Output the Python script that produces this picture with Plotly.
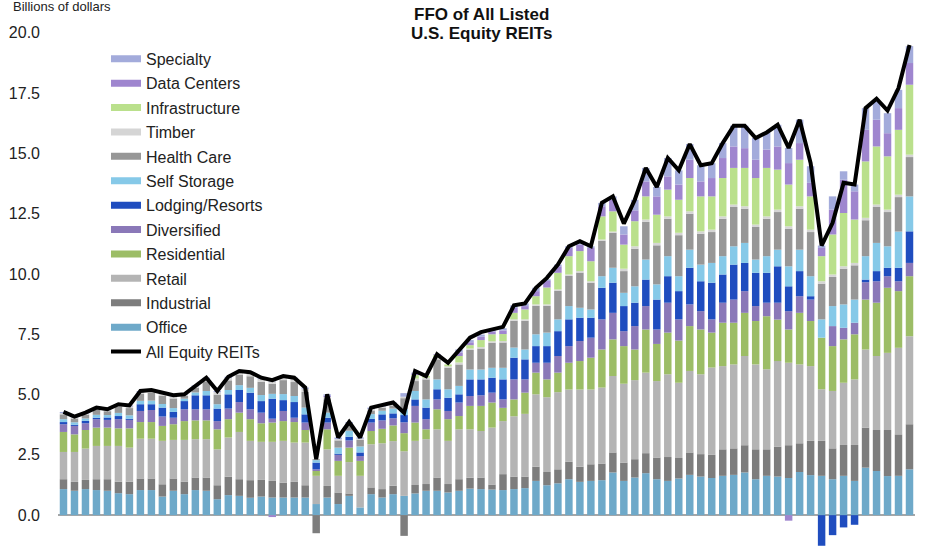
import plotly.graph_objects as go

quarters = [f"{y}Q{q}" for y in range(2003, 2023) for q in range(1, 5)][:78]

all_equity_reits = [4.28,4.09,4.25,4.46,4.39,4.60,4.55,5.15,5.19,5.08,4.97,5.01,5.38,5.70,5.15,5.74,5.98,5.93,5.70,5.60,5.77,5.70,5.29,
    2.32,5.01,3.22,3.86,3.22,4.46,4.55,4.67,4.25,
    5.98,5.77,6.67,6.32,6.87,7.36,7.59,7.70,7.81,8.70,8.78,9.43,9.84,10.39,11.15,11.36,11.15,12.95,
    13.22,12.09,13.08,14.40,13.61,14.81,14.30,15.39,14.51,14.60,15.43,16.15,16.15,15.64,15.87,16.19,15.23,16.40,14.60,
    11.18,12.12,13.78,13.71,16.88,17.27,16.78,17.71,19.50]

office = [1.08,1.01,1.08,1.04,1.01,0.91,0.87,1.04,1.04,0.77,1.01,0.87,1.04,1.01,0.66,0.83,0.80,0.72,0.77,0.73,0.73,0.73,0.73,
    0.46,0.73,0.46,0.80,0.32,0.87,0.73,0.87,0.80,
    0.90,1.01,1.01,0.94,1.01,1.10,1.08,1.06,1.04,1.08,1.12,1.42,1.24,1.32,1.49,1.38,1.42,1.45,
    1.77,1.42,1.56,1.74,1.49,1.42,1.52,1.67,1.60,1.54,1.63,1.67,1.77,1.49,1.63,1.60,1.54,1.79,1.66,1.63,1.49,1.63,1.42,1.97,1.83,1.62,1.63,1.90]
industrial = [0.41,0.37,0.38,0.45,0.48,0.48,0.52,0.48,0.48,0.51,0.51,0.52,0.52,0.55,0.58,0.76,0.69,0.73,0.69,0.69,0.62,0.65,0.51,
    -0.75,0.48,0.48,0.10,0.00,0.28,0.35,0.35,-0.86,
    0.35,0.28,0.55,0.35,0.48,0.45,0.48,0.21,0.66,0.52,0.48,0.59,0.55,0.58,0.72,0.63,0.69,0.69,
    0.83,0.76,0.76,0.83,0.90,0.99,0.85,0.93,0.93,0.96,1.10,1.10,1.13,1.24,1.10,1.24,1.36,1.19,1.42,1.45,1.28,1.28,1.49,1.66,1.70,1.91,1.72,1.87]
retail = [1.13,1.24,1.30,1.38,1.38,1.48,1.41,1.65,1.65,1.80,1.60,1.73,1.59,1.59,1.49,1.63,1.96,1.63,1.58,1.62,1.73,1.63,1.77,
    1.17,1.52,0.69,1.30,1.31,1.79,1.90,1.85,1.85,
    1.83,1.86,2.00,1.79,2.07,2.01,1.93,2.36,2.20,2.50,2.60,3.00,3.10,3.20,3.00,3.20,3.10,3.15,
    3.17,3.27,3.28,3.34,3.17,3.43,3.12,3.38,3.31,3.62,3.45,3.48,3.70,3.52,3.32,3.55,3.42,3.27,3.10,2.14,2.38,2.58,2.72,3.24,3.07,3.20,3.59,3.65]
residential = [0.83,0.73,0.77,0.76,0.76,0.73,0.80,0.69,0.69,0.62,0.65,0.78,0.78,0.78,0.83,0.76,0.80,0.90,0.77,0.80,0.82,0.85,0.52,
    0.20,0.83,0.62,0.60,0.62,0.55,0.60,0.65,0.75,
    0.76,0.41,0.83,0.90,0.55,0.97,1.04,1.04,0.55,0.70,0.88,0.90,0.74,0.81,1.11,1.18,1.32,1.58,
    1.52,1.56,1.27,1.79,1.54,1.73,1.75,1.86,1.86,1.45,1.80,1.73,1.79,1.80,2.20,1.72,1.38,2.14,1.87,2.14,1.86,1.80,1.87,2.07,2.21,2.70,2.35,2.49]
diversified = [0.32,0.35,0.28,0.35,0.32,0.38,0.35,0.46,0.50,0.39,0.27,0.49,0.46,0.46,0.34,0.44,0.44,0.41,0.44,0.16,0.42,0.18,0.31,
    0.07,0.28,0.25,0.30,0.20,0.35,0.35,0.30,0.45,
    0.69,0.42,0.41,0.34,0.56,0.41,0.44,0.41,0.35,0.83,0.55,0.41,0.69,0.69,0.69,0.83,0.83,1.25,
    1.10,0.62,0.97,0.97,0.60,1.24,0.88,0.90,0.76,0.55,0.83,0.96,0.90,0.62,0.56,0.70,0.76,0.69,0.89,0.00,0.83,0.48,0.48,0.72,0.89,0.48,0.41,0.55]
lodging = [0.09,0.05,0.10,0.06,0.10,0.13,0.05,0.28,0.24,0.37,0.24,0.34,0.58,0.58,0.52,0.59,0.50,0.69,0.48,0.83,0.45,0.65,0.34,
    0.28,0.20,0.05,0.15,0.15,0.15,0.25,0.20,0.30,
    0.27,0.48,0.42,0.55,0.34,0.69,0.66,0.62,0.83,0.90,0.83,0.69,0.69,1.03,1.11,0.97,0.83,1.31,
    1.25,1.04,0.97,1.10,1.24,1.10,1.17,1.52,1.24,1.52,1.17,1.45,1.17,1.38,1.24,1.51,1.03,1.04,0.14,-1.27,-0.83,-0.51,-0.40,0.11,0.42,0.35,0.56,1.31]
self_storage = [0.12,0.10,0.10,0.12,0.10,0.13,0.14,0.14,0.15,0.15,0.16,0.10,0.12,0.18,0.18,0.18,0.20,0.20,0.25,0.20,0.25,0.25,0.28,
    0.10,0.21,0.25,0.25,0.25,0.20,0.15,0.20,0.25,
    0.35,0.34,0.41,0.35,0.35,0.41,0.41,0.41,0.48,0.42,0.41,0.49,0.56,0.49,0.55,0.41,0.34,0.48,
    0.62,0.55,0.68,0.83,0.63,0.83,0.62,0.75,0.69,0.82,0.76,0.76,0.83,0.55,0.69,0.69,0.83,0.89,0.83,0.76,0.83,0.97,0.96,0.97,1.17,0.89,1.50,1.45]
health_care = [0.20,0.16,0.16,0.20,0.16,0.26,0.30,0.30,0.32,0.35,0.40,0.12,0.20,0.40,0.40,0.40,0.44,0.48,0.55,0.42,0.58,0.58,0.65,
    0.04,0.55,0.30,0.25,0.27,0.15,0.12,0.13,0.45,
    0.41,0.83,0.83,0.89,0.89,0.81,0.87,1.04,1.05,1.11,1.19,1.18,1.11,1.18,1.25,1.46,1.11,1.47,
    1.45,0.90,1.56,1.56,1.62,1.55,1.70,1.49,1.28,1.28,1.55,1.63,1.42,1.35,1.55,1.56,1.56,1.70,1.83,1.48,1.21,1.48,1.42,1.49,1.49,1.42,1.43,1.63]
timber = [0.05,0.04,0.04,0.05,0.04,0.05,0.06,0.06,0.07,0.07,0.08,0.03,0.05,0.10,0.10,0.10,0.10,0.12,0.12,0.10,0.12,0.13,0.13,
    0.00,0.10,0.05,0.05,0.05,0.06,0.05,0.06,0.06,
    0.10,0.07,0.08,0.06,0.08,0.06,0.06,0.06,0.06,0.06,0.06,0.06,0.06,0.06,0.06,0.06,0.06,0.05,
    0.05,0.10,0.10,0.10,0.10,0.10,0.10,0.10,0.10,0.10,0.10,0.10,0.10,0.10,0.10,0.10,0.10,0.10,0.10,0.10,0.10,0.10,0.10,0.10,0.10,0.10,0.10,0.10]
infrastructure = [0.0]*23 + [0.0]*9 + [
    0.15,0.07,0.10,0.08,0.27,0.14,0.29,0.29,0.29,0.27,0.41,0.34,0.70,0.69,0.76,0.83,0.83,0.96,
    0.84,1.00,1.04,0.96,1.17,1.11,1.37,1.38,1.45,1.38,1.59,1.52,1.59,1.93,2.01,1.66,1.73,1.93,1.38,1.04,1.66,2.21,1.80,2.34,2.41,2.21,2.69,2.90]
data_centers = [0.0]*23 + [0.00,0.05,0.00,0.00,0.00,0.00,0.00,0.00,0.00] + [
    0.05,0.00,0.03,0.00,0.15,0.12,0.14,0.12,0.15,0.20,0.14,0.21,0.27,0.27,0.34,0.27,0.55,0.42,
    0.48,0.42,0.45,0.62,0.76,0.55,0.63,0.76,0.62,0.76,0.83,0.89,0.82,0.76,0.76,0.96,0.89,0.69,0.56,0.34,1.03,1.38,1.17,1.31,1.11,0.96,0.90,0.90]
specialty = [0.05,0.04,0.04,0.05,0.04,0.05,0.05,0.05,0.05,0.05,0.05,0.03,0.04,0.05,0.05,0.05,0.05,0.05,0.05,0.05,0.05,0.05,0.05,
    0.00,0.06,0.07,0.06,0.05,0.06,0.05,0.06,0.15,
    0.05,0.00,0.00,0.00,0.12,0.09,0.09,0.08,0.09,0.11,0.11,0.14,0.07,0.07,0.07,0.14,0.07,0.14,
    0.14,0.34,0.44,0.56,0.39,0.76,0.59,0.65,0.67,0.62,0.62,0.86,0.93,0.90,0.71,0.90,0.63,0.97,0.69,0.10,0.55,0.35,0.28,0.90,0.76,0.83,0.76,0.70]

# small negative contributions shown below zero (purple)
neg_quarters = ["2007Q4", "2019Q3"]
neg_values = [-0.08, -0.23]

series = [
    ("Office", office, "#6ea9c9"),
    ("Industrial", industrial, "#7d7d7d"),
    ("Retail", retail, "#b4b4b4"),
    ("Residential", residential, "#9cbd66"),
    ("Diversified", diversified, "#8a78b8"),
    ("Lodging/Resorts", lodging, "#1f4dbf"),
    ("Self Storage", self_storage, "#86c9e8"),
    ("Health Care", health_care, "#979797"),
    ("Timber", timber, "#d5d5d5"),
    ("Infrastructure", infrastructure, "#bae08c"),
    ("Data Centers", data_centers, "#9f86cf"),
    ("Specialty", specialty, "#a3abdb"),
]

fig = go.Figure()
for name, vals, col in series:
    fig.add_trace(go.Bar(x=quarters, y=vals, name=name, marker_color=col,
                         marker_line_width=0, showlegend=False))
fig.add_trace(go.Bar(x=neg_quarters, y=neg_values, name="Data Centers", marker_color="#9f86cf",
                     marker_line_width=0, showlegend=False))

# legend entries (top to bottom)
for name, vals, col in reversed(series):
    fig.add_trace(go.Scatter(x=[quarters[0]], y=[None], mode="lines", name=name, legendgroup=name,
                             line=dict(color=col, width=7), showlegend=True))

fig.add_trace(go.Scatter(x=quarters, y=all_equity_reits, mode="lines", name="All Equity REITs",
                         legendgroup="all", line=dict(color="black", width=4), showlegend=True))

fig.update_layout(
    width=951, height=548,
    barmode="relative", bargap=0.32,
    hovermode=False,
    plot_bgcolor="white", paper_bgcolor="white",
    margin=dict(l=58, r=36, t=30, b=2),
    font=dict(family="Liberation Sans, Arial, sans-serif", color="#222222"),
    showlegend=True,
    legend=dict(x=0.056, y=0.977, xanchor="left", yanchor="top",
                font=dict(size=16, color="#222222"), bgcolor="rgba(0,0,0,0)",
                traceorder="grouped", tracegroupgap=0.6, itemwidth=30),
    xaxis=dict(showticklabels=False, showgrid=False, ticks="", showline=False,
               range=[-0.5, 77.5], type="category"),
    yaxis=dict(range=[-1.28, 20.12], dtick=2.5, tick0=0, tickformat=".1f",
               showgrid=False, zeroline=True, zerolinecolor="#a6a6a6", zerolinewidth=2,
               showline=False, ticks="", ticklabelstandoff=17,
               tickfont=dict(size=16, color="#222222")),
    annotations=[
        dict(text="Billions of dollars", xref="paper", yref="paper", x=-0.055, y=1.0465,
             xanchor="left", yanchor="middle", showarrow=False, font=dict(size=13, color="#222222")),
        dict(text="<b>FFO of All Listed</b>", xref="paper", yref="paper",
             x=0.4936, y=1.031, xanchor="center", yanchor="middle", showarrow=False,
             font=dict(size=17, color="#111111")),
        dict(text="<b>U.S. Equity REITs</b>", xref="paper", yref="paper",
             x=0.4936, y=0.994, xanchor="center", yanchor="middle", showarrow=False,
             font=dict(size=17, color="#111111")),
    ],
)

fig.write_html("out.html", config={"displayModeBar": False, "staticPlot": True},
               post_script="document.body.style.margin='0px';")
